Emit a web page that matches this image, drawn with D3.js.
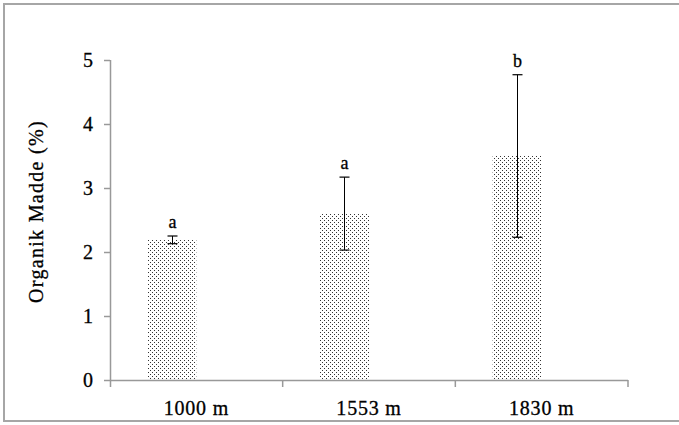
<!DOCTYPE html>
<html>
<head>
<meta charset="utf-8">
<script src="https://cdn.jsdelivr.net/npm/d3@7"></script>
<style>
  html, body { margin: 0; padding: 0; background: #fff; }
  text { font-family: "Liberation Serif", "Times New Roman", serif; fill: #000; stroke: #000; stroke-width: 0.3px; }
</style>
</head>
<body>
<svg id="chart" width="679" height="425"></svg>
<script>
// data
const categories = ['1000 m', '1553 m', '1830 m'];
const means = [2.19, 2.60, 3.50];
const errors = [0.06, 0.57, 1.27];
const letters = ['a', 'a', 'b'];
const yTicks = [0, 1, 2, 3, 4, 5];

const serif = '"Liberation Serif", "Times New Roman", serif';
const svg = d3.select('#chart');
const W = 679, H = 425;
const margin = { left: 110, right: 51, top: 60, bottom: 45 };

// frame
svg.append('rect')
    .attr('x', 4).attr('y', 4)
    .attr('width', W + 10).attr('height', 417)
    .attr('fill', 'none')
    .attr('stroke', '#a6a6a6')
    .attr('stroke-width', 2);

// dotted fill
const pat = svg.append('defs').append('pattern')
    .attr('id', 'dots')
    .attr('patternUnits', 'userSpaceOnUse')
    .attr('width', 4).attr('height', 4);
pat.append('rect').attr('width', 4).attr('height', 4).attr('fill', '#fff');
pat.append('rect').attr('x', 0).attr('y', 0).attr('width', 1).attr('height', 1).attr('fill', '#333');
pat.append('rect').attr('x', 2).attr('y', 2).attr('width', 1).attr('height', 1).attr('fill', '#333');

const x = d3.scaleBand()
    .domain(categories)
    .range([margin.left, W - margin.right]);

// two slots per group, only the first one holds data
const xs = d3.scaleBand()
    .domain(['mean', 'empty'])
    .range([0, 98]);

const y = d3.scaleLinear()
    .domain([0, 5])
    .range([H - margin.bottom, margin.top]);

const g = svg.append('g');

const slotX = (d, i) => x(categories[i]) + (x.bandwidth() - 98) / 2 + xs('mean');

// bars
g.selectAll('rect.bar')
    .data(means)
    .join('rect')
    .attr('class', 'bar')
    .attr('x', slotX)
    .attr('y', d => y(d))
    .attr('width', xs.bandwidth())
    .attr('height', d => y(0) - y(d))
    .attr('fill', 'url(#dots)');

// error bars
const eb = g.selectAll('g.err')
    .data(means)
    .join('g')
    .attr('class', 'err')
    .attr('transform', (d, i) => `translate(${Math.round(slotX(d, i) + xs.bandwidth() / 2) + 0.5},0)`);

eb.append('line')
    .attr('y1', (d, i) => y(d + errors[i]))
    .attr('y2', (d, i) => y(d - errors[i]))
    .attr('stroke', '#000').attr('stroke-width', 1);
eb.append('line')
    .attr('x1', -5).attr('x2', 5)
    .attr('y1', (d, i) => y(d + errors[i]))
    .attr('y2', (d, i) => y(d + errors[i]))
    .attr('stroke', '#000').attr('stroke-width', 1.2);
eb.append('line')
    .attr('x1', -5).attr('x2', 5)
    .attr('y1', (d, i) => y(d - errors[i]))
    .attr('y2', (d, i) => y(d - errors[i]))
    .attr('stroke', '#000').attr('stroke-width', 1.2);

eb.append('text')
    .attr('y', (d, i) => y(d + errors[i]) - 8)
    .attr('text-anchor', 'middle')
    .attr('font-size', 18)
    .text((d, i) => letters[i]);

// y axis
const yAxis = svg.append('g')
    .attr('transform', `translate(${margin.left},0)`)
    .call(d3.axisLeft(y).tickValues(yTicks).tickSize(6).tickPadding(11).tickFormat(d3.format('d')))
    .attr('font-family', null);
yAxis.select('.domain').attr('stroke', '#999').attr('stroke-width', 1.5)
    .attr('d', `M0.5,${margin.top}V${y(0) + 7}`);
yAxis.selectAll('.tick line').attr('stroke', '#999').attr('stroke-width', 1.5);
yAxis.selectAll('.tick text')
    .style('font-family', serif)
    .attr('font-size', 20)
    .attr('fill', '#000');

// x axis
const xAxis = svg.append('g')
    .attr('transform', `translate(0,${y(0)})`)
    .call(d3.axisBottom(x).tickSize(0).tickPadding(21))
    .attr('font-family', null);
xAxis.select('.domain').attr('stroke', '#999').attr('stroke-width', 1.5)
    .attr('d', `M${margin.left},0.5H${W - margin.right}`);
xAxis.selectAll('.tick text')
    .style('font-family', serif)
    .attr('font-size', 20)
    .attr('letter-spacing', 0.8)
    .attr('fill', '#000');

// category boundary ticks
xAxis.selectAll('line.sep')
    .data(categories.slice(1).concat(['end']))
    .join('line')
    .attr('class', 'sep')
    .attr('x1', (d, i) => x(categories[i]) + x.bandwidth())
    .attr('x2', (d, i) => x(categories[i]) + x.bandwidth())
    .attr('y1', 0).attr('y2', 7)
    .attr('stroke', '#999').attr('stroke-width', 1.5);

// y title
svg.append('text')
    .attr('transform', `translate(43,${(120 + 303) / 2}) rotate(-90)`)
    .attr('text-anchor', 'middle')
    .attr('font-size', 20)
    .attr('letter-spacing', 1.3)
    .text('Organik Madde (%)');
</script>
</body>
</html>
